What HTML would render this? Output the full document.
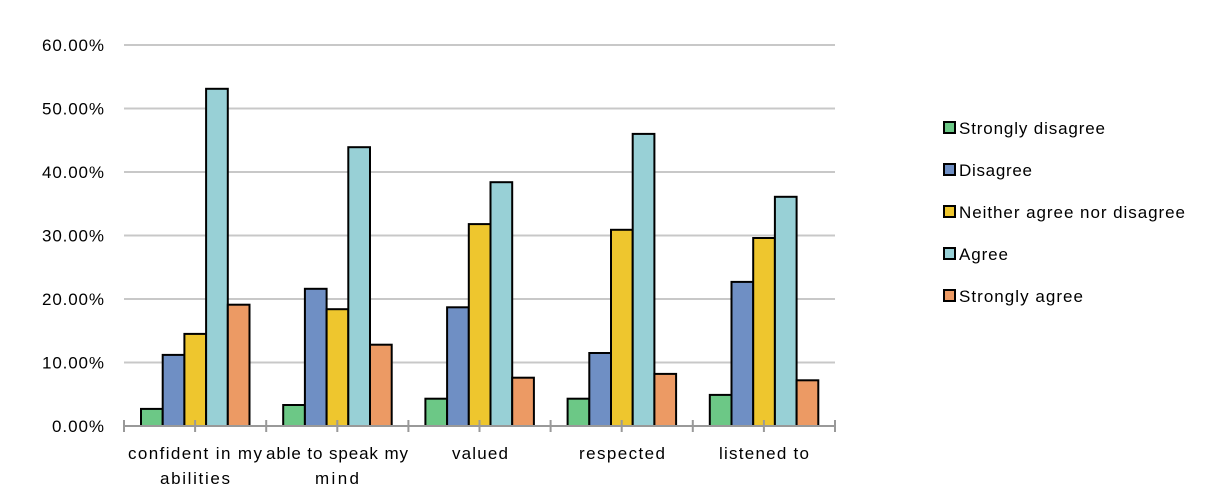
<!DOCTYPE html>
<html><head><meta charset="utf-8"><style>body{margin:0;background:#fff}svg{display:block}text{font-family:"Liberation Sans",sans-serif;fill:#000}</style></head>
<body>
<svg width="1232" height="503" xmlns="http://www.w3.org/2000/svg">
<g stroke="#c8c8c8" stroke-width="2">
<line x1="124" x2="835" y1="45" y2="45"/><line x1="124" x2="835" y1="108.5" y2="108.5"/>
<line x1="124" x2="835" y1="172" y2="172"/><line x1="124" x2="835" y1="235.5" y2="235.5"/>
<line x1="124" x2="835" y1="299" y2="299"/><line x1="124" x2="835" y1="362.5" y2="362.5"/>
</g>
<g font-size="17" text-anchor="end">
<text x="104" y="51" textLength="62">60.00%</text><text x="104" y="114.5" textLength="62">50.00%</text><text x="104" y="178" textLength="62">40.00%</text>
<text x="104" y="241.5" textLength="62">30.00%</text><text x="104" y="305" textLength="62">20.00%</text><text x="104" y="368.5" textLength="62">10.00%</text><text x="104" y="432" textLength="52">0.00%</text>
</g>
<g stroke="#000" stroke-width="2">
<rect x="141" y="408.9" width="21.7" height="17.1" fill="#6cc886"/>
<rect x="162.7" y="354.9" width="21.7" height="71.1" fill="#6f8fc4"/>
<rect x="184.4" y="333.9" width="21.7" height="92.1" fill="#eec62e"/>
<rect x="206.1" y="88.8" width="21.7" height="337.2" fill="#98d0d6"/>
<rect x="227.8" y="304.7" width="21.7" height="121.3" fill="#ec9a64"/>

<rect x="283.2" y="405" width="21.7" height="21" fill="#6cc886"/>
<rect x="304.9" y="288.8" width="21.7" height="137.2" fill="#6f8fc4"/>
<rect x="326.6" y="309.2" width="21.7" height="116.8" fill="#eec62e"/>
<rect x="348.3" y="147.2" width="21.7" height="278.8" fill="#98d0d6"/>
<rect x="370" y="344.7" width="21.7" height="81.3" fill="#ec9a64"/>

<rect x="425.4" y="398.7" width="21.7" height="27.3" fill="#6cc886"/>
<rect x="447.1" y="307.3" width="21.7" height="118.7" fill="#6f8fc4"/>
<rect x="468.8" y="224.1" width="21.7" height="201.9" fill="#eec62e"/>
<rect x="490.5" y="182.2" width="21.7" height="243.8" fill="#98d0d6"/>
<rect x="512.2" y="377.7" width="21.7" height="48.3" fill="#ec9a64"/>

<rect x="567.6" y="398.7" width="21.7" height="27.3" fill="#6cc886"/>
<rect x="589.3" y="353" width="21.7" height="73" fill="#6f8fc4"/>
<rect x="611" y="229.8" width="21.7" height="196.2" fill="#eec62e"/>
<rect x="632.7" y="133.9" width="21.7" height="292.1" fill="#98d0d6"/>
<rect x="654.4" y="373.9" width="21.7" height="52.1" fill="#ec9a64"/>

<rect x="709.8" y="394.9" width="21.7" height="31.1" fill="#6cc886"/>
<rect x="731.5" y="281.9" width="21.7" height="144.1" fill="#6f8fc4"/>
<rect x="753.2" y="238" width="21.7" height="188" fill="#eec62e"/>
<rect x="774.9" y="196.8" width="21.7" height="229.2" fill="#98d0d6"/>
<rect x="796.6" y="380.3" width="21.7" height="45.7" fill="#ec9a64"/>
</g>
<g stroke="#999" stroke-width="2">
<line x1="124" x2="835" y1="426" y2="426"/>
<line x1="124" x2="124" y1="420" y2="432"/><line x1="195.1" x2="195.1" y1="420" y2="432"/>
<line x1="266.2" x2="266.2" y1="420" y2="432"/><line x1="337.3" x2="337.3" y1="420" y2="432"/>
<line x1="408.4" x2="408.4" y1="420" y2="432"/><line x1="479.5" x2="479.5" y1="420" y2="432"/>
<line x1="550.6" x2="550.6" y1="420" y2="432"/><line x1="621.7" x2="621.7" y1="420" y2="432"/>
<line x1="692.8" x2="692.8" y1="420" y2="432"/><line x1="763.9" x2="763.9" y1="420" y2="432"/>
<line x1="835" x2="835" y1="420" y2="432"/>
</g>
<g font-size="17" text-anchor="middle">
<text x="195" y="459" textLength="134">confident in my</text><text x="195" y="484" textLength="70">abilities</text>
<text x="337" y="459" textLength="142">able to speak my</text><text x="337" y="484" textLength="44">mind</text>
<text x="480" y="459" textLength="56">valued</text>
<text x="622" y="459" textLength="86">respected</text>
<text x="764" y="459" textLength="90">listened to</text>
</g>
<g font-size="17" stroke-width="2">
<rect x="944" y="122" width="11" height="11" fill="#6cc886" stroke="#000"/><text x="959" y="134" textLength="146">Strongly disagree</text>
<rect x="944" y="164" width="11" height="11" fill="#6f8fc4" stroke="#000"/><text x="959" y="176" textLength="73">Disagree</text>
<rect x="944" y="206" width="11" height="11" fill="#eec62e" stroke="#000"/><text x="959" y="218" textLength="226">Neither agree nor disagree</text>
<rect x="944" y="248" width="11" height="11" fill="#98d0d6" stroke="#000"/><text x="959" y="260" textLength="49">Agree</text>
<rect x="944" y="290" width="11" height="11" fill="#ec9a64" stroke="#000"/><text x="959" y="302" textLength="124">Strongly agree</text>
</g>
</svg>
</body></html>
